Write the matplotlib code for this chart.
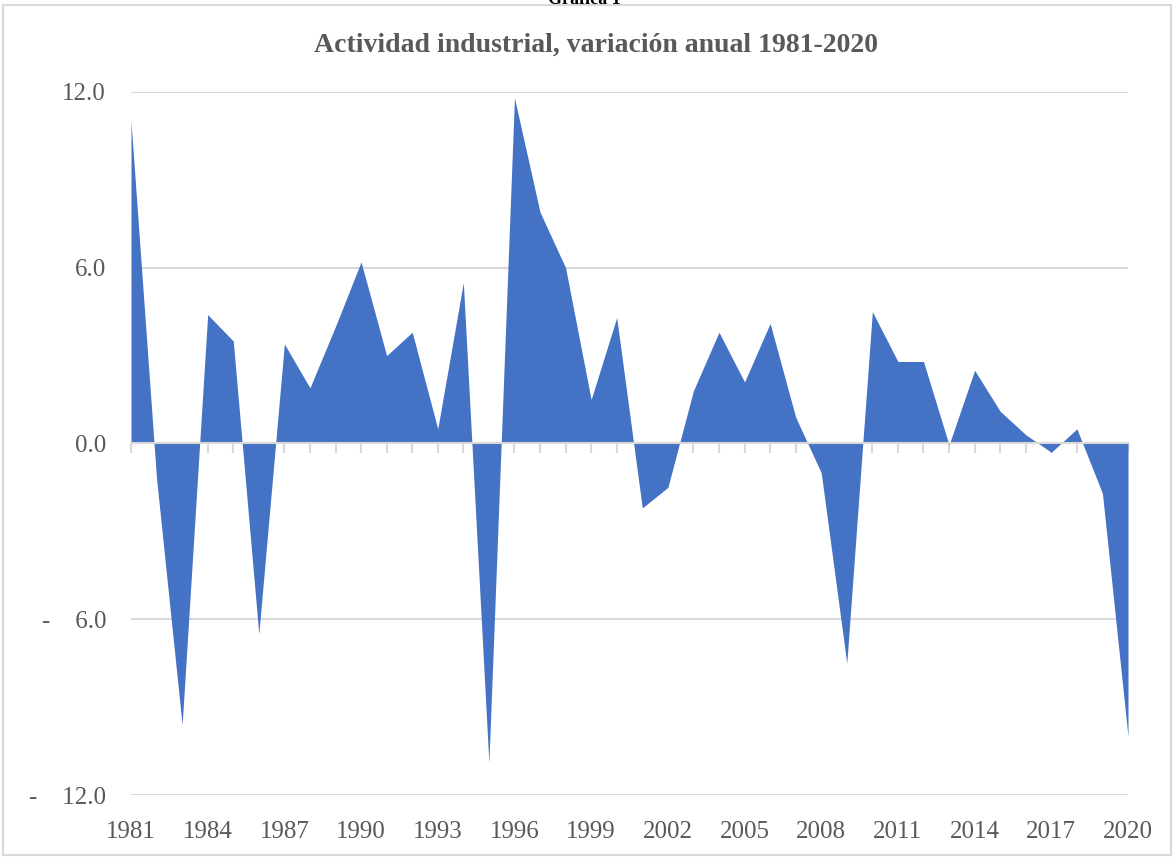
#!/usr/bin/env python3
"""
Actividad industrial, variacion anual 1981-2020 (area chart)
"""

import matplotlib
matplotlib.use("Agg")
import matplotlib.pyplot as plt
from matplotlib.patches import Rectangle
from matplotlib.ticker import FuncFormatter

# Data
years = list(range(1981, 2021))
variacion = [
    11.0, -1.2, -9.6, 4.4, 3.5, -6.5, 3.4, 1.9, 4.0, 6.2,
    3.0, 3.8, 0.5, 5.5, -10.9, 11.8, 7.9, 6.0, 1.5, 4.3,
    -2.2, -1.5, 1.8, 3.8, 2.1, 4.1, 0.9, -1.0, -7.5, 4.5,
    2.8, 2.8, -0.05, 2.5, 1.1, 0.3, -0.3, 0.5, -1.7, -10.0,
]
y_ticks = [-12, -6, 0, 6, 12]
label_years = list(range(1981, 2021, 3))

TITLE = "Actividad industrial, variación anual 1981-2020"
FONT = "Liberation Serif"
GRAY_TXT = "#595959"
GRID = "#d9d9d9"
BLUE = "#4472C4"


def fmt_y(v, pos):
    # accounting style: dash, gap, then the number
    if v < 0:
        return "-    " + f"{abs(v):.1f}"
    return f"{v:.1f}"


def main():
    plt.rcParams["font.family"] = [FONT, "DejaVu Serif"]

    fig = plt.figure(figsize=(11.74, 8.57), dpi=100)
    ax = fig.add_axes([131 / 1174, 1 - 795 / 857, (1128 - 131) / 1174, (795 - 92) / 857])

    ax.fill_between(years, variacion, 0, color=BLUE, linewidth=0, zorder=2)

    ax.set_xlim(1981, 2020)
    ax.set_ylim(-12, 12)

    # horizontal gridlines
    ax.set_yticks(y_ticks)
    ax.yaxis.set_major_formatter(FuncFormatter(fmt_y))
    ax.grid(axis="y", color=GRID, linewidth=1.5, zorder=1)
    ax.tick_params(axis="y", length=0, labelsize=18, labelcolor=GRAY_TXT, pad=18)

    for side in ["top", "right", "left"]:
        ax.spines[side].set_visible(False)

    # category axis sits on the zero line, ticks every year
    ax.spines["bottom"].set_position(("data", 0))
    ax.spines["bottom"].set_color(GRID)
    ax.spines["bottom"].set_linewidth(1.5)
    ax.spines["bottom"].set_zorder(3)
    ax.set_xticks(years)
    ax.tick_params(axis="x", direction="out", length=7, width=1.5, color=GRID,
                   labelbottom=False)

    # year labels at the bottom of the plot area
    sec = ax.secondary_xaxis(0)
    sec.set_xticks(label_years)
    sec.set_xticklabels([str(y) for y in label_years])
    sec.tick_params(length=0, labelsize=18, labelcolor=GRAY_TXT, pad=19)
    sec.spines["bottom"].set_visible(False)

    fig.text(596 / 1174, 1 - 45 / 857, TITLE, ha="center", va="center",
             fontsize=20, fontweight="bold", color=GRAY_TXT)
    fig.text(0.498, 1 - 4 / 857, "Gráfica 1", ha="center", va="baseline",
             fontsize=13, fontweight="bold", color="black")

    fig.patches.append(Rectangle((3 / 1174, 2 / 857), 1 - 6 / 1174, 1 - 7 / 857,
                                 transform=fig.transFigure, fill=False,
                                 edgecolor=GRID, linewidth=1.5))

    fig.savefig("out.png", dpi=100)
    print("Saved chart to out.png")


if __name__ == "__main__":
    main()
